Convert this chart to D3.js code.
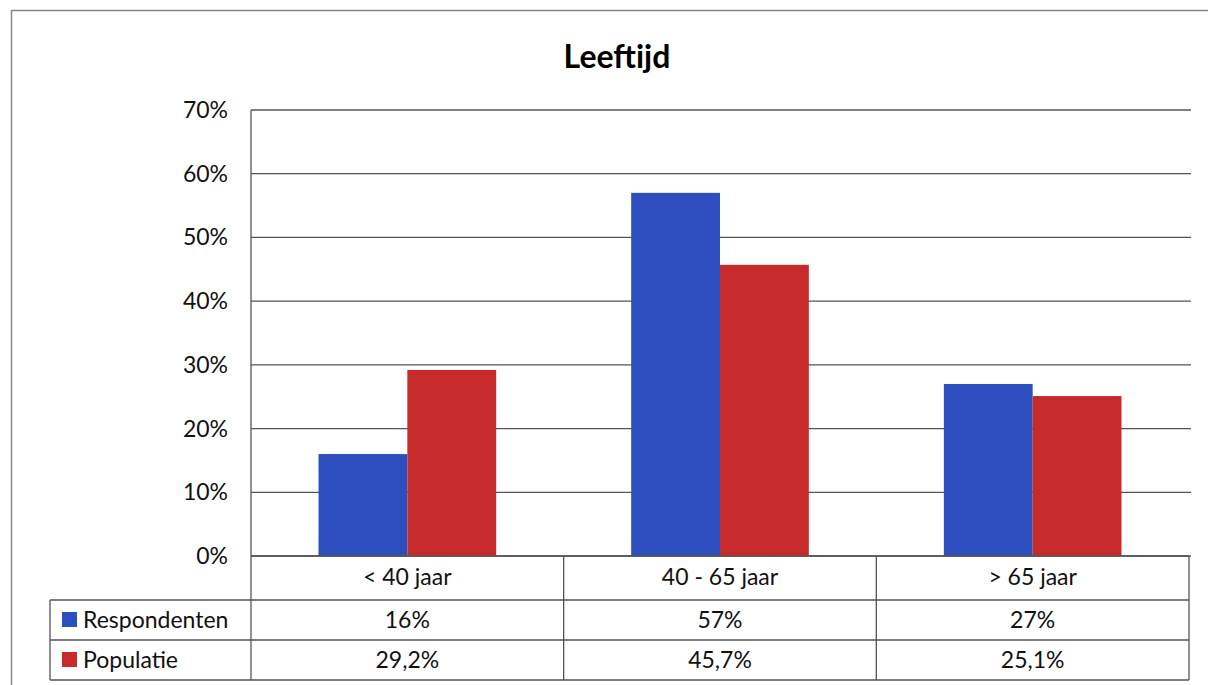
<!DOCTYPE html>
<html>
<head>
<meta charset="utf-8">
<script src="https://cdn.jsdelivr.net/npm/d3@7"></script>
<style>
  body { margin: 0; background: #fff; }
  svg { font-family: Lato, "Open Sans", sans-serif; }
</style>
</head>
<body>
<script>
// chart values
const categories = ['< 40 jaar', '40 - 65 jaar', '> 65 jaar'];
const seriesNames = ['Respondenten', 'Populatie'];
const respondenten = [16, 57, 27];
const populatie = [29.2, 45.7, 25.1];
const tableLabels = [['16%', '57%', '27%'], ['29,2%', '45,7%', '25,1%']];
const yTicks = [0, 10, 20, 30, 40, 50, 60, 70];
const colors = ['#2c4fbd', '#c62a2a'];

const w = 1208, h = 685;
const svg = d3.select(document.body).append('svg')
  .attr('width', w).attr('height', h);

// outer frame (runs off the right/bottom edge like the scan)
svg.append('rect')
  .attr('x', 11.5).attr('y', 10.5)
  .attr('width', w + 20).attr('height', h + 20)
  .attr('fill', 'none').attr('stroke', '#888').attr('stroke-width', 1.5);

svg.append('text')
  .attr('x', 617).attr('y', 68)
  .attr('text-anchor', 'middle')
  .style('font-size', '32px').style('font-weight', 'bold')
  .text('Leeftijd');

const plotL = 251, plotR = 1189, plotT = 110, plotB = 556;
const fs = '23px';

let x = d3.scaleBand().domain(categories).range([plotL, plotR]);
let xs = d3.scaleBand().domain(seriesNames).range([0, x.bandwidth()]).paddingOuter(0.76);
let y = d3.scaleLinear().domain([0, 70]).range([plotB, plotT]);

// gridlines
svg.append('g').selectAll('line')
  .data(yTicks)
  .enter().append('line')
  .attr('x1', plotL).attr('x2', plotR + 2)
  .attr('y1', d => y(d)).attr('y2', d => y(d))
  .attr('stroke', '#555').attr('stroke-width', 1.3);

// y axis labels
svg.append('g').selectAll('text')
  .data(yTicks)
  .enter().append('text')
  .attr('x', 228).attr('y', d => y(d) + 8)
  .attr('text-anchor', 'end')
  .style('font-size', fs).attr('fill', '#111')
  .text(d => d + '%');

// bars
const series = [respondenten, populatie];
let groups = svg.append('g').selectAll('g')
  .data(series)
  .enter().append('g')
  .attr('fill', (d, i) => colors[i]);

groups.selectAll('rect')
  .data((d, i) => d.map((v, j) => ({ v: v, cat: categories[j], s: seriesNames[i] })))
  .enter().append('rect')
  .attr('x', d => x(d.cat) + xs(d.s))
  .attr('width', xs.bandwidth())
  .attr('y', d => y(d.v))
  .attr('height', d => plotB - y(d.v));

// y axis line
svg.append('line')
  .attr('x1', plotL).attr('x2', plotL)
  .attr('y1', plotT).attr('y2', plotB)
  .attr('stroke', '#555').attr('stroke-width', 1.3);

// data table
const rowY = [556, 600, 640, 680];
const labelLeft = 50;
const tg = svg.append('g').attr('stroke', '#555').attr('stroke-width', 1.3);

// horizontal lines
tg.append('line').attr('x1', plotL).attr('x2', plotR).attr('y1', rowY[0]).attr('y2', rowY[0]);
[1, 2, 3].forEach(r => {
  tg.append('line').attr('x1', labelLeft).attr('x2', plotR).attr('y1', rowY[r]).attr('y2', rowY[r]);
});
// vertical lines
categories.forEach(c => {
  tg.append('line').attr('x1', x(c)).attr('x2', x(c)).attr('y1', rowY[0]).attr('y2', rowY[3]);
});
tg.append('line').attr('x1', plotR).attr('x2', plotR).attr('y1', rowY[0]).attr('y2', rowY[3]);
tg.append('line').attr('x1', labelLeft).attr('x2', labelLeft).attr('y1', rowY[1]).attr('y2', rowY[3]);

// category header
svg.append('g').selectAll('text')
  .data(categories)
  .enter().append('text')
  .attr('x', d => x(d) + x.bandwidth() / 2)
  .attr('y', 585)
  .attr('text-anchor', 'middle')
  .style('font-size', fs).attr('fill', '#111')
  .text(d => d);

// row labels with legend keys
seriesNames.forEach((name, i) => {
  const cy = (rowY[i + 1] + rowY[i + 2]) / 2;
  svg.append('rect')
    .attr('x', 62).attr('y', cy - 8)
    .attr('width', 15).attr('height', 15)
    .attr('fill', colors[i]);
  svg.append('text')
    .attr('x', 83).attr('y', cy + 8)
    .style('font-size', fs).attr('fill', '#111')
    .text(name);
  svg.append('g').selectAll('text')
    .data(tableLabels[i])
    .enter().append('text')
    .attr('x', (d, j) => x(categories[j]) + x.bandwidth() / 2)
    .attr('y', cy + 8)
    .attr('text-anchor', 'middle')
    .style('font-size', fs).attr('fill', '#111')
    .text(d => d);
});
</script>
</body>
</html>
